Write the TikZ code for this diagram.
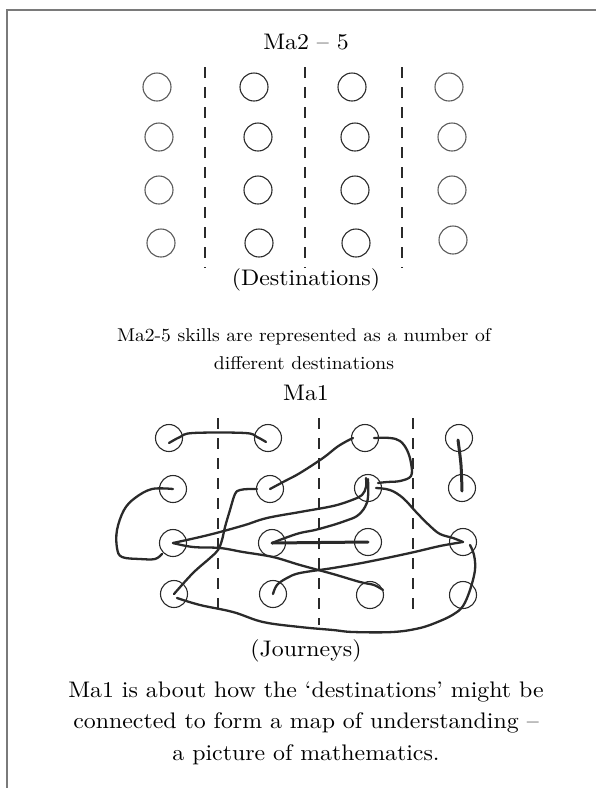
\documentclass[tikz,border=0pt]{standalone}
\usepackage{fontspec}
\setmainfont{lmroman10-regular.otf}[FakeStretch=1.06]
\usepackage{tikz}
\usetikzlibrary{arrows.meta, positioning, calc}
\definecolor{inkDark}{HTML}{2A2A2A}
\definecolor{inkSoft}{HTML}{5A5A5A}
\definecolor{frameGray}{HTML}{7A7A7A}
\tikzset{
  dest/.style={circle, draw=inkDark, line width=1.1pt, minimum size=28pt, inner sep=0pt},
  destSoft/.style={dest, draw=inkSoft},
  stop/.style={circle, draw=inkDark, line width=1.1pt, minimum size=27pt, inner sep=0pt},
  divider/.style={inkDark, line width=1.1pt, dash pattern=on 11pt off 9pt},
  journey/.style={inkDark, line width=2.3pt, line cap=round, line join=round},
  heading/.style={font=\fontsize{22.5}{31.5}\selectfont, inner sep=0pt},
  caption/.style={align=center, font=\fontsize{22.5}{31.5}\selectfont, inner sep=0pt},
  captionSmall/.style={caption, font=\fontsize{18.5}{28}\selectfont},
}
\begin{document}
\begin{tikzpicture}[x=1pt, y=-1pt]
    \useasboundingbox (0,0) rectangle (596,788);
    % open frame
    \draw[frameGray, line width=1.6pt] (7,788) -- (7,10) -- (596,10);

    % Ma2-5 destinations
    \node[heading] (titleA) at (306,42) {Ma2 – 5};
    \foreach \n/\x/\y in {11/157/87, 14/449/87, 21/159/137, 24/452/137,
                          31/159/190, 34/452/190, 41/161/243, 44/453/240}
      \node[destSoft] (t\n) at (\x,\y) {};
    \foreach \n/\x/\y in {12/254/87, 13/352/87, 22/258/137, 23/355/137,
                          32/258/190, 33/355/190, 42/259/243, 43/356/243}
      \node[dest] (t\n) at (\x,\y) {};
    \foreach \x in {205,305,402}
      \draw[divider] (\x,67) -- (\x,268);
    \node[heading] (destLbl) at (306,280) {(Destinations)};
    \node[captionSmall] (captA) at (304,349)
      {Ma2-5 skills are represented as a number of\\different destinations};

    % Ma1 journeys
    \node[heading] (titleB) at (306,393) {Ma1};
    \foreach \n/\x/\y in {11/169/438, 12/268/438, 13/365/438, 14/459/438,
                          21/173/489, 22/270/489, 23/368/488, 24/462/488,
                          31/173/543, 32/272/543, 33/368/542, 34/463/542,
                          41/174/594, 42/273/594, 43/370/595, 44/463/595}
      \node[stop] (j\n) at (\x,\y) {};
    \foreach \x/\e in {218/610, 319/625, 413/613}
      \draw[divider] (\x,418) -- (\x,\e);

    \draw[journey] plot[smooth, tension=0.6] coordinates {([yshift=-5pt]j11.center)
      (180,437) (193,433) (245,433) (257,437) ([xshift=-2pt,yshift=-4pt]j12.center)};
    \draw[journey] plot[smooth, tension=0.6] coordinates {(j21.center) (152,489)
      (135,498) (124,510) (117,530) (117,548) (122,557) (140,559) (155,559)
      ([xshift=-11pt,yshift=-11pt]j31.center)};
    \draw[journey] plot[smooth, tension=0.6] coordinates {(j31.center) (200,537)
      (220,532) (245,525) (267,518) (300,512) (333,506) (352,500) (362,495)
      (366,487) (366,478)};
    \draw[journey] plot[smooth, tension=0.6] coordinates {(368,479) (368,497)
      (365,507) (357,516) (345,521) (333,525) (315,530) (300,533) (285,538)
      (j32.center)};
    \draw[journey, line width=3pt] (j32.center) -- (j33.center);
    \draw[journey] plot[smooth, tension=0.6] coordinates {(j31.center) (193,547)
      (220,548) (243,552) (273,557) (300,565) (333,574) (360,582) (374,585)
      ([xshift=13pt,yshift=5pt]j43.center)};
    \draw[journey] plot[smooth, tension=0.6] coordinates {([xshift=-12pt]j13.center)
      (347,441) (337,447) (323,458) (300,473) (285,481) (j22.center)};
    \draw[journey] plot[smooth, tension=0.6] coordinates {([xshift=9pt]j13.center)
      (390,438) (400,441) (407,450) (411,463) (411,476) (400,481) (387,482)
      ([xshift=10pt,yshift=5pt]j23.center)};
    \draw[journey, line width=3pt] plot[smooth] coordinates {([xshift=-1pt,yshift=-2pt]j14.center)
      (461,465) ([yshift=-3pt]j24.center)};
    \draw[journey] plot[smooth, tension=0.6] coordinates {([xshift=8pt]j23.center)
      (390,490) (403,498) (417,513) (430,526) (440,534) (453,538) (j34.center)};
    \draw[journey] plot[smooth, tension=0.6] coordinates {(j34.center) (440,546)
      (410,553) (367,562) (333,568) (300,573) (287,578) (277,585) (j42.center)};
    \draw[journey] plot[smooth, tension=0.6] coordinates {([xshift=7pt,yshift=-3pt]j34.center)
      (474,555) (475,570) (470,590) (463,606) (454,614) (440,621) (420,628)
      (393,632) (353,632) (333,630) (300,627) (263,622) (233,612) (200,605)
      ([xshift=3pt,yshift=-4pt]j41.center)};
    \draw[journey] plot[smooth, tension=0.6] coordinates {(j41.center) (193,573)
      (210,558) (218,550) (222,540) (225,527) (230,510) (235,494) (240,490)
      (249,489) ([xshift=-13pt]j22.center)};

    \node[heading] (journLbl) at (306,651) {(Journeys)};
    \node[caption] (captB) at (306,723)
      {Ma1 is about how the ‘destinations’ might be\\connected to form a map of understanding –\\a picture of mathematics.};
  \end{tikzpicture}
\end{document}
